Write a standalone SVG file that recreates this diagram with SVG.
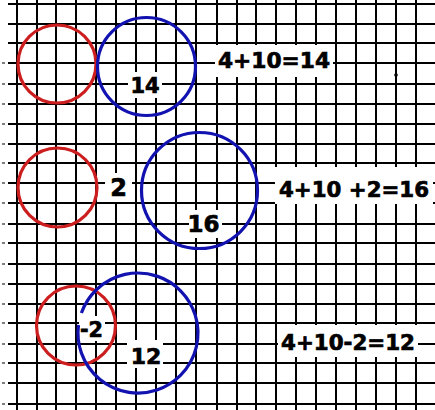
<svg xmlns="http://www.w3.org/2000/svg" width="435" height="410" viewBox="0 0 435 410">
<style>
.g{stroke:#000;stroke-width:2;fill:none}
.r{stroke:#cc1e1e;stroke-width:3.2;fill:none}
.b{stroke:#1212b0;stroke-width:3.2;fill:none}
.bg{fill:#fff}
.t{font-family:"DejaVu Sans","Liberation Sans",sans-serif;font-weight:bold;fill:#000;stroke:#000;stroke-width:0.7}
</style>
<rect width="435" height="410" fill="#fff"/>
<g id="grid" class="g">
<path d="M17 0V410M37 0V410M56 0V410M76 0V410M96 0V410M116 0V410M136 0V410M156 0V410M176 0V410M196 0V410M217 0V410M237 0V410M256 0V410M276 0V410M296 0V410M316 0V410M336 0V410M356 0V410M376 0V410M396 0V410M416 0V410"/>
<path d="M8 4H435M8 24H435M8 43H435M8 63H435M8 84H435M8 104H435M8 124H435M8 144H435M8 163H435M8 183H435M8 203H435M8 224H435M8 243H435M8 264H435M8 284H435M8 304H435M8 323H435M8 344H435M8 363H435M8 383H435M8 404H435"/>
<path d="M2 63H5M2 84H5M2 104H5M2 124H5M2 144H5M2 163H5M2 183H5M2 203H5M2 224H5M2 243H5M2 264H5M2 284H5M2 304H5M2 323H5M2 344H5M2 363H5M2 383H5M2 404H5" stroke-width="1.2"/>
<circle cx="396" cy="75" r="1.8" fill="#000" stroke="none"/>
</g>
<g id="connectors"/>
<g id="row1">
<circle id="red1" class="r" cx="57" cy="64" r="39"/>
<circle id="blue1" class="b" cx="146.5" cy="66.5" r="49"/>
<g id="label14"><rect class="bg" x="128" y="72" width="34" height="26"/><text class="t" x="145" y="93" font-size="21" text-anchor="middle">14</text></g>
<g id="eq1"><rect class="bg" x="215" y="45" width="118" height="32"/><text class="t" x="218" y="68" font-size="22" textLength="112" lengthAdjust="spacingAndGlyphs">4+10=14</text></g>
</g>
<g id="row2">
<circle id="red2" class="r" cx="57.5" cy="187.5" r="39.5"/>
<g id="label2"><rect class="bg" x="105" y="173" width="27" height="29"/><text class="t" x="118.5" y="196" font-size="24" text-anchor="middle">2</text></g>
<circle id="blue2" class="b" cx="199.5" cy="190.5" r="58"/>
<g id="label16"><rect class="bg" x="189" y="210" width="33" height="28"/><text class="t" x="203.5" y="232" font-size="23" text-anchor="middle">16</text></g>
<g id="eq2"><rect class="bg" x="275" y="167" width="158" height="37"/><text class="t" x="279" y="197" font-size="22" textLength="150" lengthAdjust="spacingAndGlyphs">4+10 +2=16</text></g>
</g>
<g id="row3">
<circle id="red3" class="r" cx="76" cy="325.5" r="39.5"/>
<g id="label-2"><rect class="bg" x="79" y="316" width="26" height="25"/><text class="t" x="80" y="337" font-size="21" textLength="23" lengthAdjust="spacingAndGlyphs">-2</text></g>
<path id="blue3" class="b" d="M81.4 313A60 60 0 1 1 78.5 325"/>
<g id="label12"><rect class="bg" x="127" y="340" width="36" height="28"/><text class="t" x="146" y="364" font-size="22" text-anchor="middle">12</text></g>
<g id="eq3"><rect class="bg" x="278" y="325" width="140" height="32"/><text class="t" x="281" y="350" font-size="21" textLength="134" lengthAdjust="spacingAndGlyphs">4+10-2=12</text></g>
</g>
</svg>
